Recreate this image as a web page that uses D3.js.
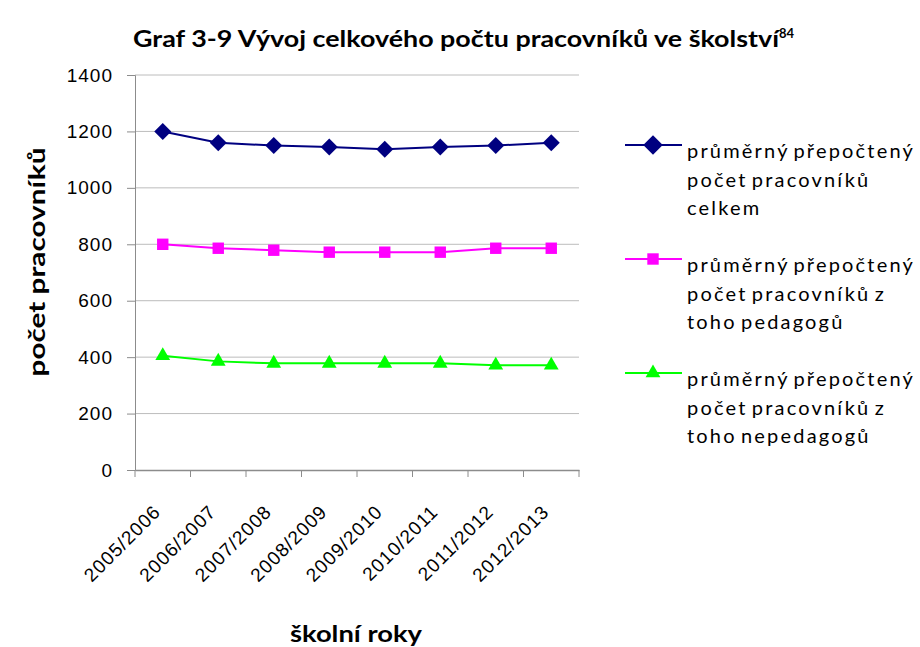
<!DOCTYPE html>
<html>
<head>
<meta charset="utf-8">
<script src="https://cdn.jsdelivr.net/npm/d3@7"></script>
<style>
  body { margin: 0; background: #fff; }
  svg { display: block; }
  .tick text { font-family: "Liberation Sans", Arial, sans-serif; fill: #000; }
</style>
</head>
<body>
<div class="chart"></div>
<script>
// School years and the three series (FTE workers)
const YEARS = ['2005/2006', '2006/2007', '2007/2008', '2008/2009', '2009/2010', '2010/2011', '2011/2012', '2012/2013']
const TOTAL = [1200, 1160, 1150, 1145, 1137, 1145, 1150, 1160]
const TEACHERS = [800, 786, 779, 772, 772, 772, 786, 786]
const NON_TEACHERS = [405, 385, 378, 378, 378, 378, 371, 371]
const Y_TICKS = [0, 200, 400, 600, 800, 1000, 1200, 1400]

const SERIES = [
    { values: TOTAL, color: '#000080', symbol: d3.symbolSquare, size: 144, rot: 45,
      label: ['průměrný přepočtený', 'počet pracovníků', 'celkem'] },
    { values: TEACHERS, color: '#ff00ff', symbol: d3.symbolSquare, size: 130, rot: 0,
      label: ['průměrný přepočtený', 'počet pracovníků z', 'toho pedagogů'] },
    { values: NON_TEACHERS, color: '#00ff00', symbol: d3.symbolTriangle, size: 95, rot: 0,
      label: ['průměrný přepočtený', 'počet pracovníků z', 'toho nepedagogů'] },
]

const svgWidth = 920
const svgHeight = 647
const margin = { top: 75, left: 135, right: 341, bottom: 177 }
const width = svgWidth - margin.left - margin.right
const height = svgHeight - margin.top - margin.bottom

const svg = d3.select('.chart').append('svg')
    .attr('width', svgWidth)
    .attr('height', svgHeight)

const chartGroup = svg.append('g')
    .attr('transform', `translate(${margin.left}, ${margin.top})`)

const xScale = d3.scaleBand().domain(YEARS).range([0, width])
const yScale = d3.scaleLinear().domain([0, 1400]).range([height, 0])

// grid lines
chartGroup.append('g')
    .selectAll('line')
    .data(Y_TICKS.slice(1))
    .join('line')
    .attr('x1', 0).attr('x2', width)
    .attr('y1', d => yScale(d)).attr('y2', d => yScale(d))
    .attr('stroke', '#bcbcbc')
    .attr('stroke-width', 1)

// Y axis
const yAxis = chartGroup.append('g')
    .call(d3.axisLeft(yScale).tickValues(Y_TICKS).tickFormat(d3.format('d')).tickSize(8).tickPadding(14))
yAxis.selectAll('text').attr('font-size', '19px').attr('letter-spacing', '1px')
yAxis.selectAll('line, path').attr('stroke', '#8c8c8c')

// X axis: ticks on band borders
const xAxis = chartGroup.append('g')
    .attr('transform', `translate(0, ${height})`)
    .call(d3.axisBottom(xScale).tickSize(0).tickSizeOuter(0))
xAxis.select('.domain').attr('stroke', '#8c8c8c').attr('stroke-width', 1.5)
xAxis.selectAll('.tick text')
    .attr('font-size', '19px')
    .attr('letter-spacing', '1px')
    .attr('text-anchor', 'end')
    .attr('y', 0)
    .attr('dy', 0)
    .attr('transform', 'translate(-1, 43) rotate(-45)')
xAxis.selectAll('.border')
    .data(d3.range(YEARS.length + 1))
    .join('line')
    .attr('x1', i => i * xScale.bandwidth()).attr('x2', i => i * xScale.bandwidth())
    .attr('y1', 0).attr('y2', 7)
    .attr('stroke', '#8c8c8c')

const cx = i => xScale(YEARS[i]) + xScale.bandwidth() / 2
const line = d3.line().x((d, i) => cx(i)).y(d => yScale(d))

SERIES.forEach(s => {
    chartGroup.append('path')
        .datum(s.values)
        .attr('fill', 'none')
        .attr('stroke', s.color)
        .attr('stroke-width', 2)
        .attr('d', line)

    chartGroup.append('g')
        .selectAll('path')
        .data(s.values)
        .join('path')
        .attr('transform', (d, i) => `translate(${cx(i)}, ${yScale(d)}) rotate(${s.rot})`)
        .attr('d', d3.symbol().type(s.symbol).size(s.size))
        .attr('fill', s.color)
})

// Legend
const legend = svg.append('g').attr('transform', 'translate(625, 145)')
SERIES.forEach((s, k) => {
    const g = legend.append('g').attr('transform', `translate(0, ${k * 114})`)
    g.append('line')
        .attr('x1', 0).attr('x2', 57).attr('y1', 0).attr('y2', 0)
        .attr('stroke', s.color).attr('stroke-width', 2)
    g.append('path')
        .attr('transform', `translate(28, 0) rotate(${s.rot})`)
        .attr('d', d3.symbol().type(s.symbol).size(s.rot ? 190 : s.size))
        .attr('fill', s.color)
    s.label.forEach((t, j) => {
        g.append('text')
            .classed('legend-text', true)
            .attr('x', 62)
            .attr('y', 13 + j * 28.7)
            .attr('font-family', 'Lato, sans-serif')
            .attr('font-size', '20px')
            .attr('word-spacing', '-3px')
            .text(t)
    })
})
// spread letters so the first legend line is as wide as in the original (~228px)
const first = legend.select('.legend-text').node()
const natural = first.getComputedTextLength()
const spacing = Math.max(0, (228 - natural) / first.textContent.length)
legend.selectAll('.legend-text').attr('letter-spacing', `${spacing}px`)

// Title
const title = svg.append('text')
    .attr('x', 133)
    .attr('y', 47)
    .attr('font-family', 'Lato, sans-serif')
    .attr('font-weight', 'bold')
    .attr('font-size', '22px')
title.append('tspan')
    .attr('textLength', 646)
    .attr('lengthAdjust', 'spacingAndGlyphs')
    .text('Graf 3-9 Vývoj celkového počtu pracovníků ve školství')
title.append('tspan')
    .attr('font-size', '13px')
    .attr('dy', '-9')
    .text('84')

// Axis titles
svg.append('text')
    .attr('transform', 'translate(45, 262) rotate(-90)')
    .attr('text-anchor', 'middle')
    .attr('font-family', 'Lato, sans-serif')
    .attr('font-weight', 'bold')
    .attr('font-size', '22px')
    .attr('textLength', 229)
    .attr('lengthAdjust', 'spacingAndGlyphs')
    .text('počet pracovníků')

svg.append('text')
    .attr('x', 356)
    .attr('y', 642)
    .attr('text-anchor', 'middle')
    .attr('font-family', 'Lato, sans-serif')
    .attr('font-weight', 'bold')
    .attr('font-size', '23px')
    .attr('textLength', 132)
    .attr('lengthAdjust', 'spacingAndGlyphs')
    .text('školní roky')
</script>
</body>
</html>
